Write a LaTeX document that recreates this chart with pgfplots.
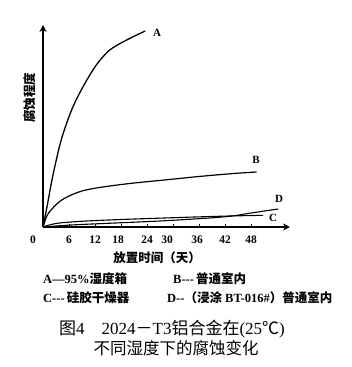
\documentclass[border=0pt]{standalone}
\usepackage{pgfplots}
\pgfplotsset{compat=1.18}
\usepackage{fontspec}
\setmainfont{Liberation Serif}
\newfontfamily\cjk{Noto Sans CJK SC}
\usetikzlibrary{arrows.meta}
\begin{document}
\begin{tikzpicture}[x=1pt,y=1pt]
\path[use as bounding box] (0,0) rectangle (352,367);
\begin{axis}[
  at={(43pt,140pt)}, anchor=south west,
  scale only axis, width=247pt, height=202pt,
  xmin=0, xmax=57, ymin=0, ymax=202,
  axis x line=bottom, axis y line=left,
  axis line style={line width=1.6pt, -{Stealth[length=7pt,width=7pt,open]}},
  xtick={6,12,...,48}, ytick=\empty,
  xticklabels={},
  tick align=inside, major tick length=2.5pt,
  tick style={line width=0.8pt, black},
  clip=false,
]
\addplot[black, line width=1.3pt, smooth] coordinates {
(0,0) (1,22) (2.3,52) (4.2,87) (6.6,117) (9.2,140) (12.3,162) (15.4,177) (19.3,187) (23.6,196)};
\addplot[black, line width=1.2pt, smooth] coordinates {
(0,0) (1,12) (2.5,20) (4,26) (6,31) (9,36) (13,39.5) (20,43.5) (28,47) (36,50.5) (44,53.5) (49.3,55)};
\addplot[black, line width=1.1pt, smooth] coordinates {
(0,0) (1,1.5) (3,3.5) (5,4.5) (10,6) (18,7.5) (26,8.7) (35,10) (43,11) (50.8,11.7)};
\addplot[black, line width=1.1pt, smooth] coordinates {
(0,0) (6.5,2) (14,3.5) (22,5) (27,6) (33,7.5) (40,9.5) (44,11.2) (48,14) (54.3,18)};
\end{axis}
% curve labels
\node[font=\bfseries\fontsize{11}{12}\selectfont] at (157,334) {A};
\node[font=\bfseries\fontsize{11}{12}\selectfont] at (256,207) {B};
\node[font=\bfseries\fontsize{11}{12}\selectfont] at (279,168) {D};
\node[font=\bfseries\fontsize{11}{12}\selectfont] at (273,149) {C};
% tick labels
\foreach \x/\p in {0/33,6/69,12/95,18/118,24/147,30/167,36/197,42/225,48/251}{
  \node[font=\bfseries\fontsize{11.5}{12}\selectfont] at (\p,127) {\x};
}
% axis labels
\node[rotate=90, font=\cjk\bfseries\fontsize{12.5}{13}\selectfont] at (30,269) {腐蚀程度};
\node[font=\cjk\bfseries\fontsize{12.5}{13}\selectfont] at (157,109) {放置时间（天）};
% legend
\node[anchor=west, inner sep=0, font=\fontsize{12.5}{13}\selectfont] at (43,88) {\textbf{A—95\%}{\cjk\bfseries 湿度箱}};
\node[anchor=west, inner sep=0, font=\fontsize{12.5}{13}\selectfont] at (173,88) {\textbf{B-{}-{}-\,}{\cjk\bfseries 普通室内}};
\node[anchor=west, inner sep=0, font=\fontsize{12.5}{13}\selectfont] at (43,69) {\textbf{C-{}-{}-\,}{\cjk\bfseries 硅胶干燥器}};
\node[anchor=west, inner sep=0, font=\fontsize{12.5}{13}\selectfont] at (167,69) {\textbf{D-{}-}{\cjk\bfseries （浸涂} \textbf{BT-016\#}{\cjk\bfseries ）普通室内}};
% caption
\node[font=\fontsize{17}{18}\selectfont] at (172,38) {{\cjk 图}4\quad 2024{\cjk －}T3{\cjk 铝合金在}(25{\cjk ℃})};
\node[font=\cjk\fontsize{16.5}{18}\selectfont] at (176,19) {不同湿度下的腐蚀变化};
\end{tikzpicture}
\end{document}
